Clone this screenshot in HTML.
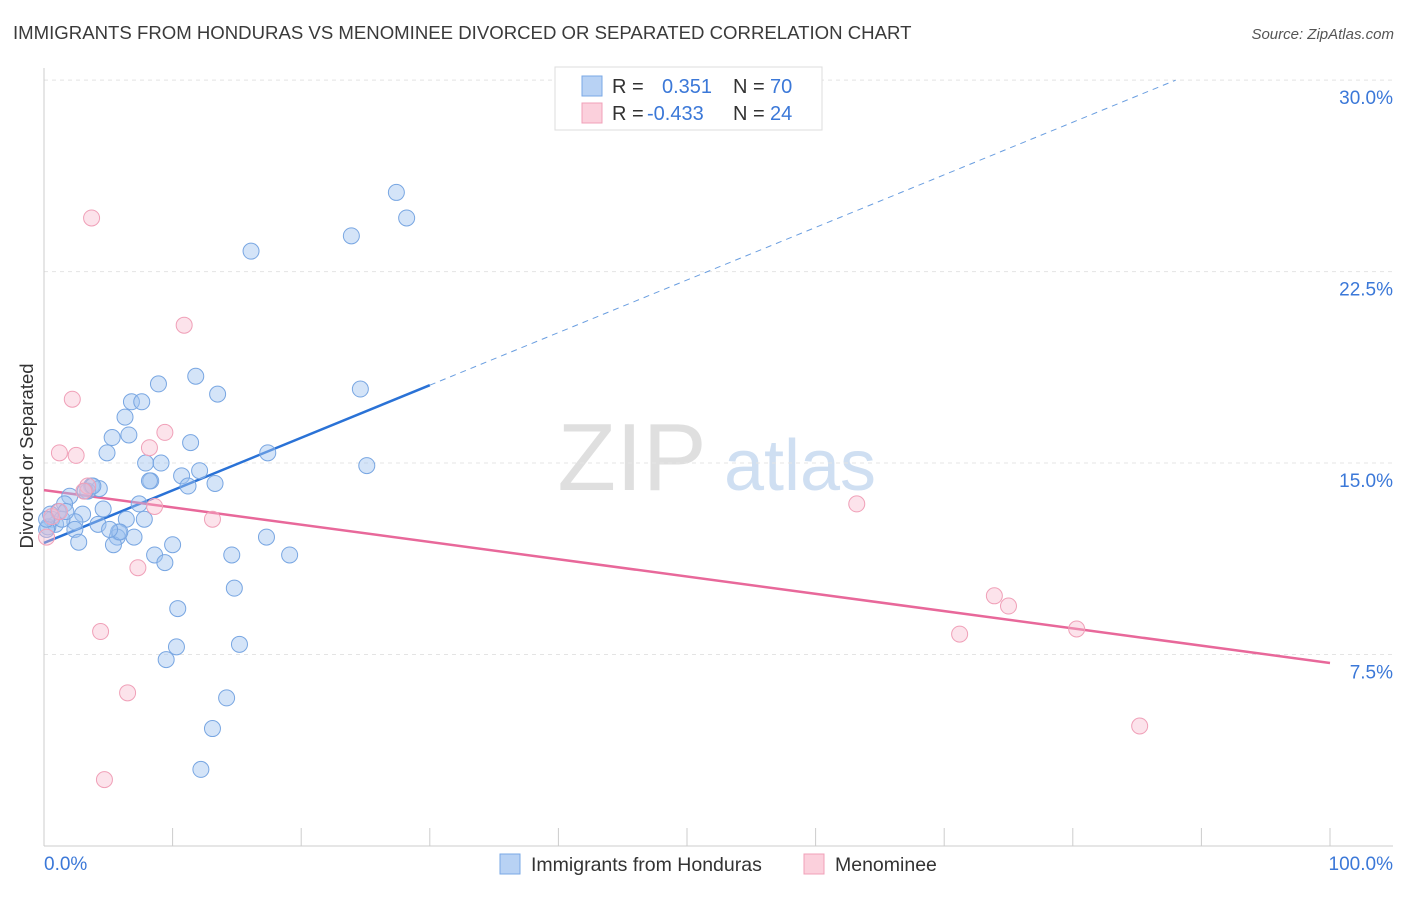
<!DOCTYPE html>
<html><head><meta charset="utf-8"><style>
body{margin:0;background:#fff;font-family:"Liberation Sans",sans-serif;}
svg text{font-family:"Liberation Sans",sans-serif;}
</style></head><body>
<svg id="chart" width="1406" height="892" xmlns="http://www.w3.org/2000/svg">
<text x="13" y="39" font-size="18.6" fill="#3a3a3a">IMMIGRANTS FROM HONDURAS VS MENOMINEE DIVORCED OR SEPARATED CORRELATION CHART</text>
<text x="1394" y="39" font-size="15" fill="#555" text-anchor="end" font-style="italic">Source: ZipAtlas.com</text>
<g>
<text x="632" y="490" font-size="96" fill="#d8d8d8" text-anchor="middle" font-family="Liberation Serif,serif" opacity="0.8">ZIP</text>
<text x="800" y="490" font-size="72" fill="#c4d8f0" text-anchor="middle" opacity="0.8">atlas</text>
</g>
<g id="grid"></g>
<g id="axes"></g>
<text transform="translate(33,456) rotate(-90)" font-size="18.5" fill="#333" text-anchor="middle">Divorced or Separated</text>
<g id="lines"></g>
<g id="points"></g>
<g>
<rect x="555" y="67" width="267" height="63" fill="#fff" stroke="#ddd"/>
<rect x="582" y="76" width="20" height="20" fill="#b8d2f4" stroke="#7aa8e6"/>
<text x="612" y="93" font-size="20" fill="#333">R =</text>
<text x="662" y="93" font-size="20" fill="#3b78d8">0.351</text>
<text x="733" y="93" font-size="20" fill="#333">N =</text>
<text x="770" y="93" font-size="20" fill="#3b78d8">70</text>
<rect x="582" y="103" width="20" height="20" fill="#fbd0dc" stroke="#f0a0b8"/>
<text x="612" y="120" font-size="20" fill="#333">R =</text>
<text x="647" y="120" font-size="20" fill="#3b78d8">-0.433</text>
<text x="733" y="120" font-size="20" fill="#333">N =</text>
<text x="770" y="120" font-size="20" fill="#3b78d8">24</text>
</g>
<g>
<rect x="500" y="854" width="20" height="20" fill="#b8d2f4" stroke="#7aa8e6"/>
<text x="531" y="871" font-size="19.5" fill="#333">Immigrants from Honduras</text>
<rect x="804" y="854" width="20" height="20" fill="#fbd0dc" stroke="#f0a0b8"/>
<text x="835" y="871" font-size="19.5" fill="#333">Menominee</text>
</g>
</svg>
<script>
const yTicks=[7.5,15,22.5,30];
const yTickLabels=["7.5%","15.0%","22.5%","30.0%"];
const xTicks=[0,10,20,30,40,50,60,70,80,90,100];
const xEndLabels=["0.0%","100.0%"];
const blueX=[27.4,28.2,23.9,16.1,11.8,8.9,13.5,24.6,6.8,7.6,6.3,6.6,5.3,11.4,4.9,17.4,7.9,9.1,25.1,10.7,12.1,8.3,11.2,13.3,3.7,4.3,3.4,2.0,7.4,4.6,1.6,1.1,3.0,0.6,2.4,6.4,7.8,0.9,4.2,5.8,2.4,17.3,7.0,5.7,5.4,2.7,10.0,8.6,14.6,19.1,9.4,14.8,10.4,10.3,15.2,9.5,14.2,13.1,12.2,0.3,0.2,0.5,1.4,3.2,5.9,8.2,0.2,1.7,3.8,5.1];
const blueY=[25.6,24.6,23.9,23.3,18.4,18.1,17.7,17.9,17.4,17.4,16.8,16.1,16.0,15.8,15.4,15.4,15.0,15.0,14.9,14.5,14.7,14.3,14.1,14.2,14.1,14.0,13.9,13.7,13.4,13.2,13.4,13.1,13.0,12.8,12.7,12.8,12.8,12.6,12.6,12.3,12.4,12.1,12.1,12.1,11.8,11.9,11.8,11.4,11.4,11.4,11.1,10.1,9.3,7.8,7.9,7.3,5.8,4.6,3.0,12.5,12.4,13.0,12.8,13.9,12.3,14.3,12.8,13.1,14.1,12.4];
const pinkX=[3.7,10.9,2.2,9.4,8.2,1.2,2.5,3.4,3.1,8.6,13.1,0.2,63.2,73.9,75.0,71.2,80.3,7.3,4.4,6.5,85.2,4.7,0.6,1.2];
const pinkY=[24.6,20.4,17.5,16.2,15.6,15.4,15.3,14.1,13.9,13.3,12.8,12.1,13.4,9.8,9.4,8.3,8.5,10.9,8.4,6.0,4.7,2.6,12.9,13.1];
const blueFit=[11.87,0.206];
const pinkFit=[13.94,-0.0677];
const blueSolidEnd=30, blueDashEnd=88;

const X0=44,X1=1330,Y0=846,PY=25.53;
const sx=v=>X0+(X1-X0)*v/100;
const sy=v=>Y0-v*PY;
const NS="http://www.w3.org/2000/svg";
function mk(t,a,p){const e=document.createElementNS(NS,t);for(const k in a)e.setAttribute(k,a[k]);p.appendChild(e);return e;}
const grid=document.getElementById('grid'),axes=document.getElementById('axes');
yTicks.forEach((v,i)=>{
  const l=mk('line',{x1:X0,x2:1393,y1:sy(v),y2:sy(v),stroke:'#e4e4e4','stroke-dasharray':'4,4'},grid);
  
  
  const t=mk('text',{x:1393,y:sy(v)+24,'font-size':19,fill:'#3b78d8','text-anchor':'end'},axes);
  t.textContent=yTickLabels[i];
  
  
});
mk('line',{x1:X0,x2:X0,y1:68,y2:Y0,stroke:'#ccc'},axes);
mk('line',{x1:X0,x2:1393,y1:Y0,y2:Y0,stroke:'#ccc'},axes);
xTicks.forEach(v=>{const l=mk('line',{x1:sx(v),x2:sx(v),y1:828,y2:Y0,stroke:'#ccc'},axes);
  
  });
const t0=mk('text',{x:44,y:870,'font-size':19,fill:'#3b78d8'},axes);t0.textContent=xEndLabels[0];


const t1=mk('text',{x:1393,y:870,'font-size':19,fill:'#3b78d8','text-anchor':'end'},axes);t1.textContent=xEndLabels[1];



const pts=document.getElementById('points');
blueX.forEach((x,i)=>{const c=mk('circle',{cx:sx(x),cy:sy(blueY[i]),r:8,fill:'rgba(160,196,240,0.45)',stroke:'#78a6e2','stroke-width':1},pts);
  
  });
pinkX.forEach((x,i)=>{const c=mk('circle',{cx:sx(x),cy:sy(pinkY[i]),r:8,fill:'rgba(248,185,205,0.4)',stroke:'#f0a0b8','stroke-width':1},pts);
  
  });

const ln=document.getElementById('lines');
const f=(p,x)=>p[0]+p[1]*x;
const b1=mk('line',{x1:sx(0),y1:sy(f(blueFit,0)),x2:sx(blueSolidEnd),y2:sy(f(blueFit,blueSolidEnd)),stroke:'#2a72d6','stroke-width':2.5},ln);


const b2=mk('line',{x1:sx(blueSolidEnd),y1:sy(f(blueFit,blueSolidEnd)),x2:sx(blueDashEnd),y2:sy(f(blueFit,blueDashEnd)),stroke:'#6a9ee0','stroke-width':1,'stroke-dasharray':'6,5'},ln);


const p1=mk('line',{x1:sx(0),y1:sy(f(pinkFit,0)),x2:sx(100),y2:sy(f(pinkFit,100)),stroke:'#e8689a','stroke-width':2.5},ln);


</script>
</body></html>
